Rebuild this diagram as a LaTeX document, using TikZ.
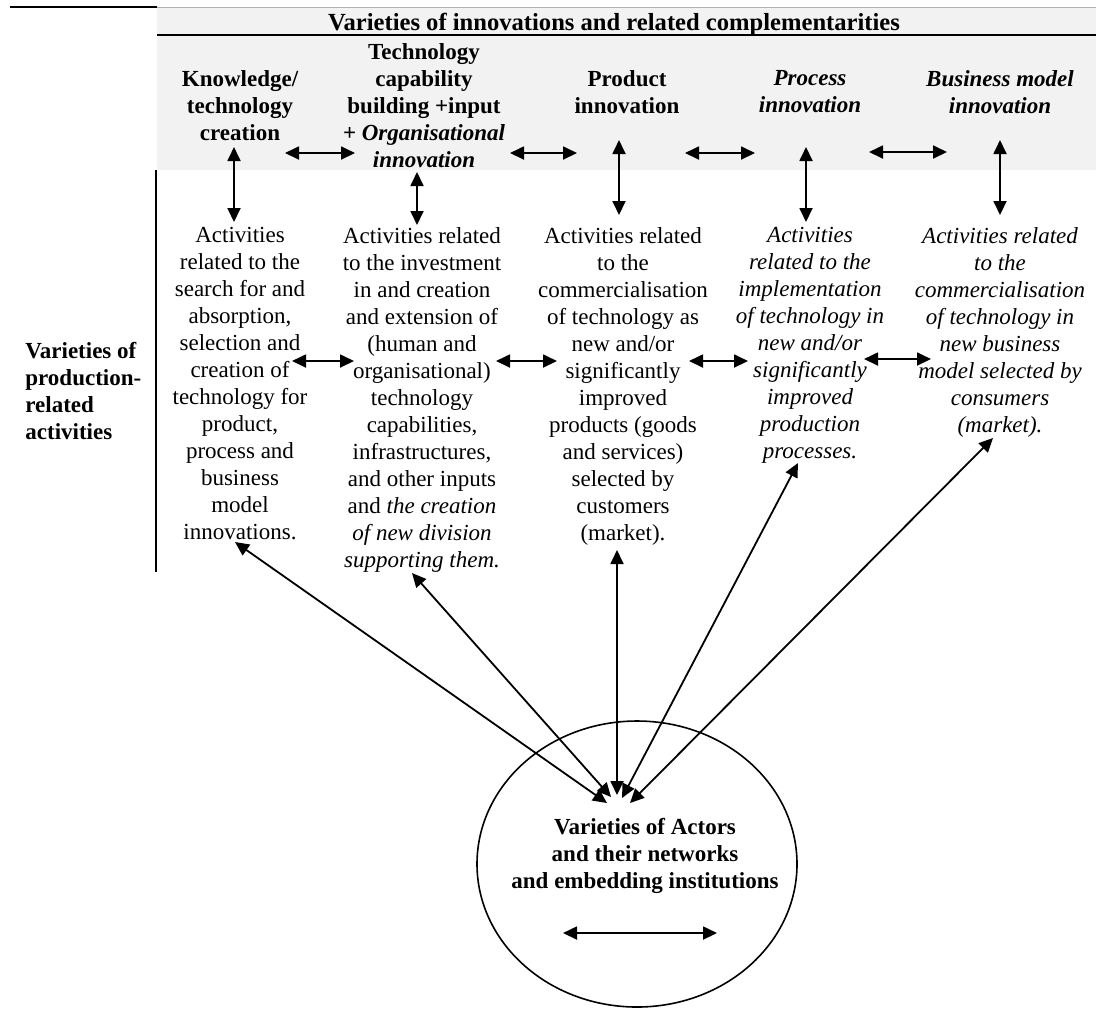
\documentclass[tikz,border=0pt]{standalone}
\usepackage{fontspec}
\setmainfont{Liberation Serif}
\usepackage{xcolor}
\usetikzlibrary{arrows.meta,positioning,shapes.geometric}
\definecolor{bandgray}{RGB}{242,242,242}

\begin{document}
\begin{tikzpicture}[
    x=0.5pt, y=-0.5pt,
    txt/.style={align=center, inner sep=0pt, anchor=north, font=\fontsize{11.5}{13.5}\selectfont},
    ittxt/.style={txt, font=\fontsize{11.5}{13.5}\selectfont\itshape},
    head/.style={txt, font=\fontsize{11.5}{13.5}\selectfont\bfseries},
    link/.style={<->, line width=0.9pt},
    >={Triangle[length=7pt,width=6.5pt]}
]
\useasboundingbox (0,0) rectangle (1096,1009);

% header band and rules
\fill[bandgray] (157,8) rectangle (1096,170);
\draw[line width=1.3pt] (10,7) -- (157,7);
\draw[gray!60, line width=0.5pt] (157,7) -- (1096,7);
\draw[line width=1.1pt] (157,35) -- (1096,35);
\draw[line width=1.1pt] (156,170) -- (156,572);

\node[head, font=\fontsize{12.3}{14}\selectfont\bfseries] (title) at (614,13)
    {Varieties of innovations and related complementarities};

\node[head] (hknow) at (240,70) {Knowledge/\\technology\\creation};
\node[head] (hcap) at (424,43) {Technology\\capability\\building +input\\+ \textit{Organisational}\\\textit{innovation}};
\node[head] (hprod) at (627,70) {Product\\innovation};
\node[head] (hproc) at (810,70) {\textit{Process}\\\textit{innovation}};
\node[head] (hbiz) at (1000,70) {\textit{Business model}\\\textit{innovation}};

\node[head, align=left, anchor=north west] (prodlabel) at (25,342)
    {Varieties of\\production-\\related\\activities};

\node[txt] (aknow) at (240,227) {Activities\\related to the\\search for and\\absorption,\\selection and\\creation of\\technology for\\product,\\process and\\business\\model\\innovations.};
\node[txt] (acap) at (422,227) {Activities related\\to the investment\\in and creation\\and extension of\\(human and\\organisational)\\technology\\capabilities,\\infrastructures,\\and other inputs\\and \textit{the creation}\\\textit{of new division}\\\textit{supporting them.}};
\node[txt] (aprod) at (623,227) {Activities related\\to the\\commercialisation\\of technology as\\new and/or\\significantly\\improved\\products (goods\\and services)\\selected by\\customers\\(market).};
\node[ittxt] (aproc) at (810,227) {Activities\\related to the\\implementation\\of technology in\\new and/or\\significantly\\improved\\production\\processes.};
\node[ittxt] (abiz) at (1000,227) {Activities related\\to the\\commercialisation\\of technology in\\new business\\model selected by\\consumers\\(market).};

% actors
\node[draw, ellipse, line width=0.8pt, minimum width=160pt, minimum height=143pt, inner sep=0pt] (actors) at (637,864) {};
\node[head] (actorstxt) at (645,818) {Varieties of Actors\\and their networks\\and embedding institutions};

% arrow ends
\coordinate (v1a) at (234,147); \coordinate (v1b) at (234,222);
\coordinate (v2a) at (417,172); \coordinate (v2b) at (417,225);
\coordinate (v3a) at (619,140); \coordinate (v3b) at (619,215);
\coordinate (v4a) at (806,147); \coordinate (v4b) at (806,222);
\coordinate (v5a) at (1000,140); \coordinate (v5b) at (1000,215);

\coordinate (h1a) at (285,153); \coordinate (h1b) at (355,153);
\coordinate (h2a) at (510,153); \coordinate (h2b) at (577,153);
\coordinate (h3a) at (685,153); \coordinate (h3b) at (755,153);
\coordinate (h4a) at (869,152); \coordinate (h4b) at (947,152);

\coordinate (m1a) at (292,361); \coordinate (m1b) at (354,361);
\coordinate (m2a) at (496,361); \coordinate (m2b) at (557,361);
\coordinate (m3a) at (689,361); \coordinate (m3b) at (748,361);
\coordinate (m4a) at (864,359); \coordinate (m4b) at (931,359);

\coordinate (r1a) at (235,542); \coordinate (r1b) at (607,803);
\coordinate (r2a) at (412,573); \coordinate (r2b) at (611,797);
\coordinate (r3a) at (617,550); \coordinate (r3b) at (617,795);
\coordinate (r4a) at (798,463); \coordinate (r4b) at (622,798);
\coordinate (r5a) at (993,438); \coordinate (r5b) at (630,803);

\coordinate (in1) at (563,933); \coordinate (in2) at (717,933);

\draw[link] (v1a) -- (v1b);
\draw[link] (v2a) -- (v2b);
\draw[link] (v3a) -- (v3b);
\draw[link] (v4a) -- (v4b);
\draw[link] (v5a) -- (v5b);

\draw[link] (h1a) -- (h1b);
\draw[link] (h2a) -- (h2b);
\draw[link] (h3a) -- (h3b);
\draw[link] (h4a) -- (h4b);

\draw[link] (m1a) -- (m1b);
\draw[link] (m2a) -- (m2b);
\draw[link] (m3a) -- (m3b);
\draw[link] (m4a) -- (m4b);

\draw[link] (r1a) -- (r1b);
\draw[link] (r2a) -- (r2b);
\draw[link] (r3a) -- (r3b);
\draw[link] (r4a) -- (r4b);
\draw[link] (r5a) -- (r5b);

\draw[link] (in1) -- (in2);

\end{tikzpicture}
\end{document}
